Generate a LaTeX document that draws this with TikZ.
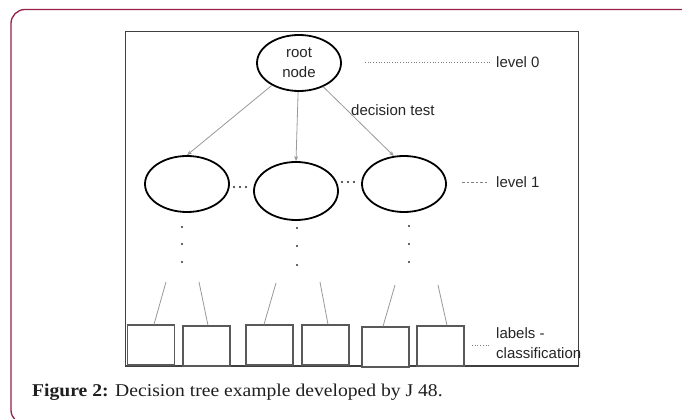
\documentclass[tikz,border=0pt]{standalone}
\usepackage{fontspec}
\setmainfont{Liberation Serif}
\newfontfamily\capfont{Liberation Serif}[FakeStretch=1.09]
\newfontfamily\diag{Liberation Sans}
\usetikzlibrary{shapes.geometric,arrows.meta,calc}
\definecolor{framecol}{RGB}{150,32,72}
\begin{document}
\begin{tikzpicture}[x=1pt,y=-1pt,
  nodeell/.style={ellipse, draw=black, line width=1.8pt, minimum width=84pt, minimum height=56pt, inner sep=0pt, align=center},
  leafbox/.style={draw=black!65, line width=1.2pt, fill=white, minimum width=47pt, minimum height=40pt, inner sep=0pt},
  conn/.style={draw=black!40, line width=0.8pt},
  arrowed/.style={-{Stealth[length=5pt,width=4pt]}},
  lab/.style={font=\diag\fontsize{15}{18}\selectfont, inner sep=1pt, text=black!85},
  guide/.style={draw=black!50, line width=0.7pt}
]
\useasboundingbox (0,0) rectangle (682,419);
\clip (0,0) rectangle (682,419);
\fill[white] (0,0) rectangle (682,419);
% outer frame (right and bottom sides lie outside the picture)
\draw[framecol, line width=1.3pt, rounded corners=14pt] (700,9.5) -- (11,9.5) -- (11,424) -- (700,424);
% inner picture frame
\draw[black!75, line width=1pt] (125,32) rectangle (578,366);
\draw[black!75, line width=1.6pt] (125,366) -- (578,366);

% nodes
\node[nodeell, font=\diag\fontsize{15}{20}\selectfont, text=black!85] (root) at (299,63) {root\\node};
\node[nodeell] (e1) at (187,184) {};
\node[nodeell, minimum height=58pt] (e2) at (296,191) {};
\node[nodeell] (e3) at (404,184) {};

% edges
\draw[conn, arrowed] (root) -- (e1.north);
\draw[conn, arrowed] (root) -- (e2.north);
\draw[conn, arrowed] (root) -- (e3.110);

\node[lab, anchor=west] (dt) at (350,110) {decision test};

% level labels
\node[lab, anchor=west] (lv0) at (495,62) {level 0};
\coordinate (d0) at (365,62);
\draw[guide, dotted, shorten >=4pt] (d0) -- (lv0.west);
\node[lab, anchor=west] (lv1) at (495,182) {level 1};
\coordinate (d1) at (462,182);
\draw[guide, dash pattern=on 2.5pt off 2pt, shorten >=6pt] (d1) -- (lv1.west);

% dots between ellipses
\foreach \x in {234,240,246} \fill[black!85] (\x,187) circle (1.2);
\foreach \x in {342,348,354} \fill[black!85] (\x,182) circle (1.2);

% vertical dots
\foreach \y in {227,244,262} \fill[black!80] (182,\y) circle (1.1);
\foreach \y in {228,246,265} \fill[black!80] (297,\y) circle (1.1);
\foreach \y in {226,244,262} \fill[black!80] (409,\y) circle (1.1);

% leaves
\node[leafbox] (b1) at (151,345) {};
\node[leafbox] (b2) at (206.5,346) {};
\node[leafbox] (b3) at (269.5,345) {};
\node[leafbox] (b4) at (325.5,345) {};
\node[leafbox] (b5) at (385.5,347) {};
\node[leafbox] (b6) at (440.5,346) {};

\coordinate (t1) at (166,282);
\coordinate (t2) at (199,282);
\coordinate (t3) at (276,283);
\coordinate (t4) at (320,282);
\coordinate (t5) at (395,285);
\coordinate (t6) at (438,285);
\draw[conn] (t1) -- ($(b1.north)+(3,0)$);
\draw[conn] (t2) -- ($(b2.north)+(1.5,0)$);
\draw[conn] (t3) -- ($(b3.north)+(-5.5,0)$);
\draw[conn] (t4) -- ($(b4.north)+(2.5,0)$);
\draw[conn] (t5) -- ($(b5.north)+(-2.5,0)$);
\draw[conn] (t6) -- ($(b6.north)+(6.5,0)$);

\node[lab, anchor=west, align=left, font=\diag\fontsize{15}{20}\selectfont] (lv2) at (495,343) {labels -\\classification};
\coordinate (d2) at (472,345);
\draw[guide, dotted, shorten >=6pt] (d2) -- (d2 -| lv2.west);

% caption
\node[anchor=west, inner sep=0pt, text=black!88, font=\capfont\fontsize{18}{21}\selectfont] (cap) at (32,392) {\textbf{Figure 2:} Decision tree example developed by J 48.};
\end{tikzpicture}
\end{document}
